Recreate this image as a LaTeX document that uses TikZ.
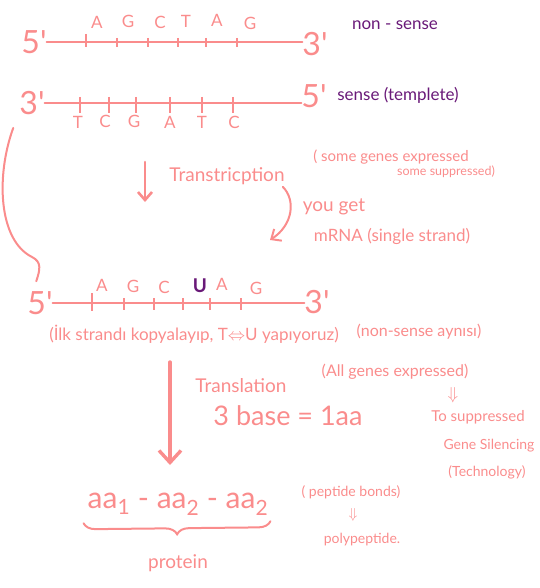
\documentclass[tikz,border=0pt]{standalone}
\usepackage{fontspec}
\setmainfont{Lato}
\usetikzlibrary{arrows.meta,decorations.pathreplacing}

\definecolor{salmon}{RGB}{250,140,140}
\definecolor{plum}{RGB}{105,25,120}
\newcommand{\fs}[1]{\fontsize{#1}{#1}\selectfont}

\tikzset{
  ink/.style={text=salmon,inner sep=0pt},
  note/.style={text=plum,inner sep=0pt},
  strand/.style={draw=salmon,line width=2.2pt,line cap=round},
  tickmark/.style={draw=salmon,line width=1.2pt},
  pen/.style={draw=salmon,line width=2pt,line cap=round},
  barb/.style={-{Straight Barb[length=8pt,width=14pt]}},
}

\begin{document}
\begin{tikzpicture}[x=1pt,y=-1pt]
\useasboundingbox (0,0) rectangle (539,588);

% DNA, upper strand
\node[ink,font=\fs{32}] (t5) at (34,42) {5\textquotesingle};
\node[ink,font=\fs{32}] (t3) at (315,44) {3\textquotesingle};
\draw[strand] (t5.east) -- (t5.east -| t3.west);
\draw[tickmark] (86,34) -- (86,47);
\foreach \x in {117,148,178,206,237}
  \draw[tickmark] (\x,38) -- (\x,47);
\node[ink,font=\fs{17}] (ta1) at (97,22) {A};
\node[ink,font=\fs{17}] (tg1) at (128,21) {G};
\node[ink,font=\fs{17}] (tc1) at (160,22) {C};
\node[ink,font=\fs{17}] (tt1) at (186,21) {T};
\node[ink,font=\fs{17}] (ta2) at (217,20) {A};
\node[ink,font=\fs{17}] (tg2) at (250,23) {G};
\node[note,font=\fs{17}] (nonsense) at (395,25) {non - sense};

% DNA, lower strand
\node[ink,font=\fs{32}] (b3) at (32,103) {3\textquotesingle};
\node[ink,font=\fs{32}] (b5) at (314,96) {5\textquotesingle};
\draw[strand] (b3.east) -- (b3.east -| b5.west);
\foreach \x in {80,109,136,170,202,233}
  \draw[tickmark] (\x,97) -- (\x,113);
\node[ink,font=\fs{17}] (bt1) at (78,122) {T};
\node[ink,font=\fs{17}] (bc1) at (105,121) {C};
\node[ink,font=\fs{17}] (bg1) at (134,121) {G};
\node[ink,font=\fs{17}] (ba1) at (170,122) {A};
\node[ink,font=\fs{17}] (bt2) at (202,122) {T};
\node[ink,font=\fs{17}] (bc2) at (234,122) {C};
\node[note,font=\fs{17}] (sense) at (398,95) {sense (templete)};

% transcription
\node[ink,font=\fs{19}] (trans) at (227,176) {Transtricption};
\coordinate (tx1) at (145,162);
\coordinate (tx2) at (145,202);
\draw[pen,barb,line width=2.6pt] (tx1) -- (tx2);
\node[ink,font=\fs{15}] (some1) at (391,157) {( some genes expressed};
\node[ink,font=\fs{12.5}] (some2) at (446,172) {some suppressed)};
\node[ink,font=\fs{19}] (youget) at (334,207) {you get};
\node[ink,font=\fs{17}] (mrna) at (392,236) {mRNA (single strand)};
\coordinate (tx3) at (270,240);
\draw[pen,barb] ([shift={(-2,2)}]trans.south east) .. controls (296,200) and (293,225) .. (tx3);

% mRNA
\node[ink,font=\fs{32}] (m5) at (40,303) {5\textquotesingle};
\node[ink,font=\fs{32}] (m3) at (317,302) {3\textquotesingle};
\draw[strand] (m5.east) -- (m5.east -| m3.west);
\draw[tickmark] (92,293) -- (92,311);
\foreach \x in {124,154,183,210,241}
  \draw[tickmark] (\x,298) -- (\x,310);
\node[ink,font=\fs{17}] (ma1) at (102,285) {A};
\node[ink,font=\fs{17}] (mg1) at (133,286) {G};
\node[ink,font=\fs{17}] (mc1) at (164,287) {C};
\node[note,font=\fs{19}\bfseries] (mu1) at (200,286) {U};
\node[ink,font=\fs{17}] (ma2) at (222,284) {A};
\node[ink,font=\fs{17}] (mg2) at (256,288) {G};
\node[ink,font=\fs{17}] (copy) at (194,334) {(İlk strandı kopyalayıp, T$\Leftrightarrow$U yapıyoruz)};
\node[ink,font=\fs{16}] (same) at (419,332) {(non-sense aynısı)};

% from template strand down to mRNA
\draw[pen] ([shift={(-6,13)}]b3.south west) .. controls (-4,175) and (-2,240) .. (32,257)
  .. controls (42,262) and (40,270) .. ([shift={(9,-10)}]m5.north west);

% translation
\coordinate (tl1) at (170,362);
\coordinate (tl2) at (170,465);
\draw[pen,-{Straight Barb[length=12pt,width=22pt]},line width=3.4pt] (tl1) -- (tl2);
\node[ink,font=\fs{19}] (translation) at (241,386) {Translation};
\node[ink,font=\fs{16}] (allgenes) at (395,372) {(All genes expressed)};
\node[ink,font=\fs{27}] (codon) at (288,416) {3 base = 1aa};
\node[ink,font=\fs{16}] (impl1) at (453,395) {$\Downarrow$};
\node[ink,font=\fs{15}] (suppr) at (478,417) {To suppressed};
\node[ink,font=\fs{14}] (silencing) at (489,446) {Gene Silencing};
\node[ink,font=\fs{14}] (tech) at (487,472) {(Technology)};

% protein
\node[ink,font=\fs{30}] (chain) at (178,504) {aa\textsubscript{1} - aa\textsubscript{2} - aa\textsubscript{2}};
\node[ink,font=\fs{14}] (bonds) at (351,492) {( peptide bonds)};
\node[ink,font=\fs{14}] (impl2) at (353,515) {$\Downarrow$};
\node[ink,font=\fs{14}] (poly) at (362,540) {polypeptide.};
\draw[pen,decorate,decoration={brace,mirror,amplitude=12pt}]
  ([shift={(-4,8)}]chain.south west) -- ([shift={(2,6)}]chain.south east);
\node[ink,font=\fs{19}] (protein) at (178,563) {protein};

\end{tikzpicture}
\end{document}
